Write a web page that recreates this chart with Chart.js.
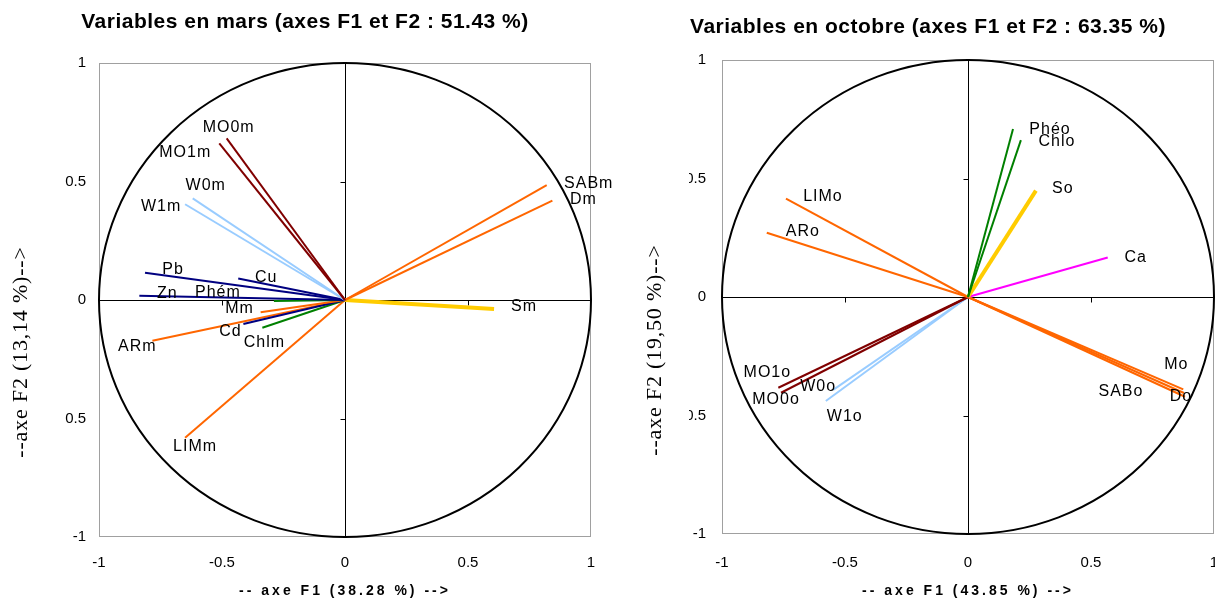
<!DOCTYPE html>
<html><head><meta charset="utf-8">
<script src="https://cdn.jsdelivr.net/npm/chart.js@4.4.0/dist/chart.umd.min.js"></script>
<style>
html,body{margin:0;padding:0;background:#fff;width:1215px;height:601px;overflow:hidden}
.wrap{position:absolute;top:0;height:601px}
#w1{left:0;width:640px;z-index:1}
#w2{left:610px;width:605px;z-index:2}
canvas{display:block;background:transparent}
</style></head><body>
<div class="wrap" id="w1"><canvas id="c1" width="640" height="601"></canvas></div>
<div class="wrap" id="w2"><canvas id="c2" width="605" height="601"></canvas></div>
<script>
// ---- data ----
const marsVars = ['MO0m','MO1m','W0m','W1m','Pb','Zn','Cu','Phém','Mm','Cd','Chlm','ARm','LIMm','SABm','Dm','Sm'];
const marsF1   = [-0.481,-0.511,-0.619,-0.650,-0.813,-0.836,-0.434,-0.289,-0.343,-0.413,-0.336,-0.783,-0.650,0.820,0.843,0.606];
const marsF2   = [0.682,0.661,0.429,0.404,0.115,0.018,0.091,-0.004,-0.052,-0.101,-0.117,-0.172,-0.581,0.485,0.419,-0.038];

const octVars = ['Phéo','Chlo','So','Ca','LIMo','ARo','MO1o','MO0o','W0o','W1o','Mo','SABo','Do'];
const octF1   = [0.183,0.215,0.276,0.568,-0.740,-0.818,-0.771,-0.760,-0.548,-0.578,0.875,0.878,0.882];
const octF2   = [0.709,0.662,0.449,0.167,0.415,0.271,-0.383,-0.404,-0.392,-0.439,-0.390,-0.405,-0.421];

const axisTicks = [-1,-0.5,0,0.5,1];

const marsTitle = 'Variables en mars (axes F1 et F2 : 51.43 %)';
const octTitle  = 'Variables en octobre (axes F1 et F2 : 63.35 %)';
const marsXTitle = '-- axe F1 (38.28 %) -->';
const octXTitle  = '-- axe F1 (43.85 %) -->';
const marsYTitle = '--axe F2 (13,14 %)-->';
const octYTitle  = '--axe F2 (19,50 %)-->';

// ---- styles (kept apart from the data) ----
const marsGroups = ['MO','MO','W','W','metal','metal','metal','pig','sed','metal','pig','sed','sed','sed','sed','S'];
const octGroups  = ['pig','pig','S','Ca','sed','sed','MO','MO','W','W','sed','sed','sed'];
const groupStyle = {
  MO:{color:'#800000',width:2}, W:{color:'#99CCFF',width:2}, metal:{color:'#000080',width:2},
  pig:{color:'#008000',width:2}, sed:{color:'#FF6600',width:2}, S:{color:'#FFCC00',width:4},
  Ca:{color:'#FF00FF',width:2}
};
// label placement: pixel offsets from each vector tip
const marsLabelOffsets = {MO0m:[2,-11],MO1m:[-34,9],W0m:[13,-13],W1m:[-24,2],Pb:[28,-3],Zn:[28,-2],Cu:[28,-1],
  'Phém':[-56,-8],Mm:[-21,-4],Cd:[-13,8],Chlm:[2,15],ARm:[-15,6],LIMm:[10,9],SABm:[42,-1],Dm:[31,-1],Sm:[30,-2]};
const octLabelOffsets = {'Phéo':[37,1],Chlo:[36,1],So:[27,-2],Ca:[28,0],LIMo:[37,-2],ARo:[36,-1],MO1o:[-11,-15],
  MO0o:[-5,7],W0o:[-15,-3],W1o:[19,16],Mo:[-7,-25],SABo:[-63,-1],Do:[-4,0]};

const SANS = '"Liberation Sans", Arial, sans-serif';
const SERIF = '"Liberation Serif", "Times New Roman", serif';

function decoPlugin(c) {
  return {
    id: 'deco',
    beforeDatasetsDraw(chart) {
      const {ctx, chartArea: a, scales: {x, y}} = chart;
      ctx.save();
      ctx.strokeStyle = '#A0A0A0'; ctx.lineWidth = 1;
      ctx.strokeRect(a.left + 0.5, a.top + 0.5, a.right - a.left - 1, a.bottom - a.top - 1);
      const cx = Math.round(x.getPixelForValue(0)) + 0.5, cy = Math.round(y.getPixelForValue(0)) + 0.5;
      ctx.strokeStyle = '#000'; ctx.beginPath();
      ctx.moveTo(cx, a.top); ctx.lineTo(cx, a.bottom);
      ctx.moveTo(a.left, cy); ctx.lineTo(a.right, cy);
      for (const v of axisTicks) {
        if (v === 0 || Math.abs(v) === 1) continue;
        const px = Math.round(x.getPixelForValue(v)) + 0.5;
        ctx.moveTo(px, cy); ctx.lineTo(px, cy + 5);
        const py = Math.round(y.getPixelForValue(v)) + 0.5;
        ctx.moveTo(cx - 5, py); ctx.lineTo(cx, py);
      }
      ctx.stroke();
      // correlation circle
      const x0 = x.getPixelForValue(0), y0 = y.getPixelForValue(0);
      ctx.lineWidth = 2; ctx.beginPath();
      ctx.ellipse(x0, y0, x.getPixelForValue(1) - x0, y0 - y.getPixelForValue(1), 0, 0, Math.PI * 2);
      ctx.stroke();
      ctx.restore();
    },
    afterDatasetsDraw(chart) {
      const {ctx, scales: {x, y}} = chart;
      ctx.save();
      ctx.font = '16px ' + SANS; ctx.fillStyle = '#000';
      ctx.textAlign = 'center'; ctx.textBaseline = 'middle';
      ctx.letterSpacing = '1px';
      c.vars.forEach((n, i) => {
        const o = c.offsets[n] || [0, 0];
        ctx.fillText(n, x.getPixelForValue(c.f1[i]) + o[0], y.getPixelForValue(c.f2[i]) + o[1]);
      });
      ctx.restore();
    },
    afterDraw(chart) {
      const {ctx, chartArea: a} = chart;
      ctx.save();
      ctx.fillStyle = '#000'; ctx.textAlign = 'center'; ctx.textBaseline = 'middle';
      // chart title
      ctx.font = 'bold 21px ' + SANS; ctx.letterSpacing = '0.5px';
      ctx.fillText(c.title, c.titleX, c.titleY);
      // x axis title
      ctx.font = 'bold 14px ' + SANS; ctx.letterSpacing = '3px';
      ctx.fillText(c.xTitle, (a.left + a.right) / 2, c.xTitleY);
      // y axis title (white box, as in the original, hides part of the tick labels)
      ctx.fillStyle = '#fff';
      ctx.fillRect(c.yBox[0], c.yBox[1], c.yBox[2], c.yBox[3]);
      ctx.fillStyle = '#000';
      ctx.translate(c.yTitleX, c.yTitleY); ctx.rotate(-Math.PI / 2);
      ctx.font = '22px ' + SERIF; ctx.letterSpacing = '0.8px';
      ctx.fillText(c.yTitle, 0, 0);
      ctx.restore();
    }
  };
}

function makeChart(canvasId, c) {
  const datasets = c.vars.map((n, i) => {
    const st = groupStyle[c.groups[i]];
    return {label: n, data: [{x: 0, y: 0}, {x: c.f1[i], y: c.f2[i]}], showLine: true,
      borderColor: st.color, backgroundColor: st.color, borderWidth: st.width,
      pointRadius: 0, pointHoverRadius: 0, fill: false, tension: 0, borderCapStyle: 'butt'};
  });
  const tickFont = {family: SANS, size: 15};
  return new Chart(document.getElementById(canvasId), {
    type: 'scatter',
    data: {datasets},
    options: {
      responsive: false, animation: false, devicePixelRatio: 1,
      layout: {padding: c.padding},
      plugins: {legend: {display: false}, tooltip: {enabled: false}, title: {display: false}},
      scales: {
        x: {type: 'linear', min: -1, max: 1,
          afterBuildTicks: s => { s.ticks = axisTicks.map(v => ({value: v})); },
          afterFit: s => { s.height = c.xAxisH; s.paddingLeft = 0; s.paddingRight = 0; },
          grid: {display: true, drawOnChartArea: false, drawTicks: false, color: 'rgba(0,0,0,0)'},
          border: {display: false},
          ticks: {font: tickFont, color: '#000', padding: c.xTickPad, maxRotation: 0, autoSkip: false,
            callback: v => String(v)}},
        y: {type: 'linear', min: -1, max: 1,
          afterBuildTicks: s => { s.ticks = axisTicks.map(v => ({value: v})); },
          afterFit: s => { s.width = c.yAxisW; s.paddingTop = 0; s.paddingBottom = 0; },
          grid: {display: true, drawOnChartArea: false, drawTicks: false, color: 'rgba(0,0,0,0)'},
          border: {display: false},
          ticks: {font: tickFont, color: '#000', padding: c.yTickPad, autoSkip: false,
            callback: v => String(v)}}
      }
    },
    plugins: [decoPlugin(c)]
  });
}

makeChart('c1', {vars: marsVars, f1: marsF1, f2: marsF2, groups: marsGroups, offsets: marsLabelOffsets,
  title: marsTitle, xTitle: marsXTitle, yTitle: marsYTitle,
  padding: {left: 0, right: 49, top: 63, bottom: 0}, yAxisW: 99, xAxisH: 64, xTickPad: 17, yTickPad: 13,
  titleX: 305, titleY: 22, xTitleY: 591, yTitleX: 21, yTitleY: 352, yBox: [0, 190, 65, 280]});

makeChart('c2', {vars: octVars, f1: octF1, f2: octF2, groups: octGroups, offsets: octLabelOffsets,
  title: octTitle, xTitle: octXTitle, yTitle: octYTitle,
  padding: {left: 0, right: 1, top: 60, bottom: 0}, yAxisW: 112, xAxisH: 67, xTickPad: 20, yTickPad: 16,
  titleX: 318, titleY: 27, xTitleY: 591, yTitleX: 45, yTitleY: 350, yBox: [14, 166, 65, 304]});
</script>
</body></html>
